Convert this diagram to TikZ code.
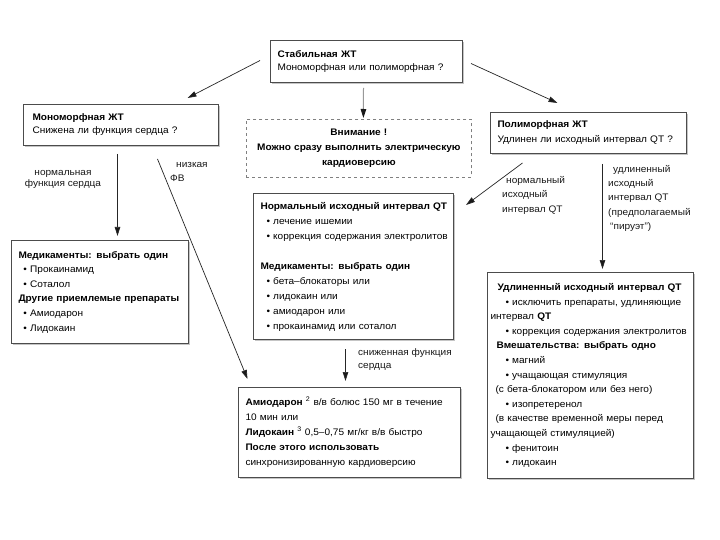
\documentclass[tikz,border=0pt]{standalone}
\usepackage{fontspec}
\setmainfont[FakeStretch=1.06]{Liberation Sans}
\usetikzlibrary{arrows.meta,calc,shadows}
\newcommand\fsA{\fontsize{9.5}{13}\selectfont}
\newcommand\fsB{\fontsize{9.5}{15}\selectfont}
\newcommand\fsC{\fontsize{9.5}{14.6}\selectfont}
\newcommand\bul{\textbullet\ }
\begin{document}
\begin{tikzpicture}[x=1pt,y=-1pt,
  box/.style={draw=black!70, line width=1pt, fill=white, anchor=north west,
    inner ysep=2pt, align=left, text=black,
    drop shadow={shadow xshift=1.2pt,shadow yshift=-1.2pt,fill=black!45}},
  dbox/.style={draw=black!50, dashed, line width=0.8pt, fill=white, anchor=north west,
    inner ysep=2pt, align=center, text=black},
  arr/.style={-{Triangle[length=9pt,width=5.5pt,fill=black!90]}, line width=0.7pt, draw=black!85},
  garr/.style={-{Triangle[length=9pt,width=5.5pt,fill=black!90,color=black!90]}, line width=1pt, draw=black!40},
  lbl/.style={inner sep=0pt, anchor=north west, align=left, text=black!90}]
\useasboundingbox (0,0) rectangle (720,540);
\fill[white] (0,0) rectangle (720,540);

% boxes
\node[box, font=\fsA, minimum width=192pt, minimum height=42pt, text width=178pt, inner xsep=7pt] (top) at (270,40)
  {\textbf{Стабильная ЖТ}\\Мономорфная или полиморфная ?};
\node[box, font=\fsA, minimum width=195pt, minimum height=41pt, text width=177pt, inner xsep=9pt] (mono) at (23,104)
  {\textbf{Мономорфная ЖТ}\\Снижена ли функция сердца ?};
\node[dbox, font=\fsB, minimum width=225pt, minimum height=58pt, text width=211pt, inner xsep=7pt] (attn) at (246,119)
  {\textbf{Внимание !}\\\mbox{\textbf{Можно сразу выполнить электрическую}}\\\textbf{кардиоверсию}};
\node[box, font=\fsB, minimum width=196pt, minimum height=41pt, text width=182pt, inner xsep=7pt] (poly) at (490,112)
  {\textbf{Полиморфная ЖТ}\\\mbox{Удлинен ли исходный интервал QT ?}};
\node[box, font=\fsC, minimum width=177pt, minimum height=103pt, text width=163pt, inner xsep=7pt] (medL) at (11,240)
  {\mbox{\textbf{Медикаменты: выбрать один}}\\
   \hspace*{5pt}\bul Прокаинамид\\
   \hspace*{5pt}\bul Соталол\\
   \mbox{\textbf{Другие приемлемые препараты}}\\
   \hspace*{5pt}\bul Амиодарон\\
   \hspace*{5pt}\bul Лидокаин};
\node[box, font=\fsB, minimum width=200pt, minimum height=146pt, text width=186pt, inner xsep=7pt] (normQT) at (253,193)
  {\mbox{\textbf{Нормальный исходный интервал QT}}\\
   \hspace*{6pt}\bul лечение ишемии\\
   \hspace*{6pt}\mbox{\bul коррекция содержания электролитов}\\[15pt]
   \mbox{\textbf{Медикаменты: выбрать один}}\\
   \hspace*{6pt}\bul бета–блокаторы или\\
   \hspace*{6pt}\bul лидокаин или\\
   \hspace*{6pt}\bul амиодарон или\\
   \hspace*{6pt}\mbox{\bul прокаинамид или соталол}};
\node[box, font=\fsB, minimum width=222pt, minimum height=90pt, text width=208pt, inner xsep=7pt] (amio) at (238,387)
  {\mbox{\textbf{Амиодарон} \textsuperscript{2} в/в болюс 150 мг в течение}\\
   10 мин или\\
   \mbox{\textbf{Лидокаин} \textsuperscript{3} 0,5–0,75 мг/кг в/в быстро}\\
   \mbox{\textbf{После этого использовать}}\\
   \mbox{синхронизированную кардиоверсию}};
\node[box, font=\fsC, minimum width=206pt, minimum height=206pt, text width=200pt, inner xsep=3pt] (longQT) at (487,272)
  {\hspace*{7pt}\mbox{\textbf{Удлиненный исходный интервал QT}}\\
   \hspace*{15pt}\mbox{\bul исключить препараты, удлиняющие}\\
   интервал \textbf{QT}\\
   \hspace*{15pt}\mbox{\bul коррекция содержания электролитов}\\
   \hspace*{6pt}\mbox{\textbf{Вмешательства: выбрать одно}}\\
   \hspace*{15pt}\bul магний\\
   \hspace*{15pt}\mbox{\bul учащающая стимуляция}\\
   \hspace*{5pt}\mbox{(с бета-блокатором или без него)}\\
   \hspace*{15pt}\bul изопретеренол\\
   \hspace*{5pt}\mbox{(в качестве временной меры перед}\\
   \mbox{учащающей стимуляцией)}\\
   \hspace*{15pt}\bul фенитоин\\
   \hspace*{15pt}\bul лидокаин};

% labels
\node[lbl, align=center, font=\fontsize{9.5}{11.5}\selectfont, anchor=north] (lnf) at (63,170)
  {нормальная\\функция сердца};
\node[lbl, font=\fontsize{9.5}{14}\selectfont] (llow) at (170,162)
  {\hspace*{6pt}низкая\\ФВ};
\node[lbl, font=\fontsize{9.5}{14.5}\selectfont] (lnqt) at (502,176)
  {\hspace*{4pt}нормальный\\исходный\\интервал QT};
\node[lbl, font=\fontsize{9.5}{14.3}\selectfont] (llqt) at (608,165)
  {\hspace*{5pt}удлиненный\\исходный\\интервал QT\\(предполагаемый\\\hspace*{2pt}“пируэт”)};
\node[lbl, font=\fontsize{9.5}{13}\selectfont] (lred) at (358,348)
  {сниженная функция\\сердца};

% connectors
\draw[arr] ($(top.west)+(-10,-1)$) -- ($(mono.north)+(66.5,-6)$);
\draw[arr] ($(top.east)+(8,2)$) -- ($(poly.north)+(-31,-9)$);
\draw[garr] ($(top.south)+(-3,5)$) -- ($(attn.north)+(4.5,-1)$);
\draw[arr] ($(mono.south)+(-3.5,8)$) -- ($(medL.north)+(17.5,-4)$);
\draw[arr] ($(mono.south)+(36.5,13)$) -- ($(amio.north)+(-102,-8)$);
\draw[arr] ($(poly.south)+(-66,9)$) -- ($(normQT.north east)+(12,12)$);
\draw[arr] ($(poly.south)+(14,10)$) -- ($(longQT.north)+(12,-3)$);
\draw[arr] ($(normQT.south)+(-8,9)$) -- ($(amio.north)+(-4,-6)$);
\end{tikzpicture}
\end{document}
